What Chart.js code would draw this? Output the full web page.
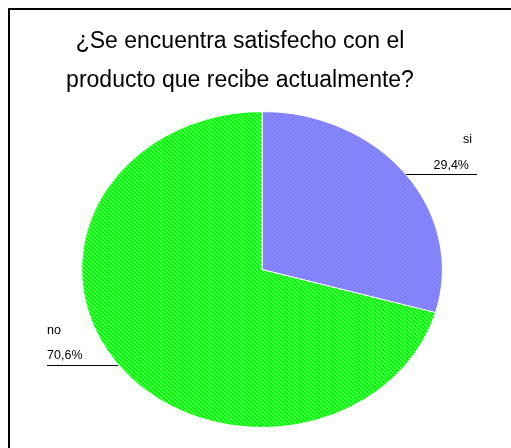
<!DOCTYPE html>
<html>
<head>
<meta charset="utf-8">
<script src="https://cdn.jsdelivr.net/npm/chart.js@4.4.1/dist/chart.umd.min.js"></script>
<style>
  body { margin: 0; background: #fff; }
  canvas { display: block; }
</style>
</head>
<body>
<canvas id="myChart" width="511" height="448"></canvas>
<script>
var titleLines = ['¿Se encuentra satisfecho con el', 'producto que recibe actualmente?'];
var labels = ['si', 'no'];
var values = [29.4, 70.6];
var baseColors = ['#8080ff', '#00ff00'];

// the pie is drawn as a circle and then stretched sideways into an ellipse
var stretchX = 1.142;

var ctx = document.getElementById('myChart').getContext('2d');

// diagonal white hatching over a flat colour
function hatch(base, alpha) {
	var c = document.createElement('canvas');
	c.width = 4; c.height = 4;
	var g = c.getContext('2d');
	g.fillStyle = base;
	g.fillRect(0, 0, 4, 4);
	g.strokeStyle = 'rgba(255,255,255,' + alpha + ')';
	g.lineWidth = 1;
	g.beginPath();
	g.moveTo(-1, -1); g.lineTo(5, 5);
	g.stroke();
	return ctx.createPattern(c, 'repeat');
}

var fills = [hatch(baseColors[0], 0.12), hatch(baseColors[1], 0.6)];

var squash = {
	id: 'squash',
	beforeDatasetsDraw: function(chart) {
		var arc = chart.getDatasetMeta(0).data[0];
		var c = chart.ctx;
		c.save();
		c.translate(arc.x, arc.y);
		c.scale(stretchX, 1);
		c.translate(-arc.x, -arc.y);
	},
	afterDatasetsDraw: function(chart) {
		chart.ctx.restore();
	}
};

var frameAndText = {
	id: 'frameAndText',
	beforeDraw: function(chart) {
		var c = chart.ctx;
		c.save();
		c.fillStyle = '#000';
		c.fillRect(8, 8, 503, 2);
		c.fillRect(8, 8, 2, 440);
		c.restore();
	},
	afterDraw: function(chart) {
		var c = chart.ctx;
		c.save();
		c.fillStyle = '#000';
		c.textAlign = 'center';
		c.font = '23px "Liberation Sans", Arial, sans-serif';
		c.fillText(titleLines[0], 240, 48);
		c.fillText(titleLines[1], 240, 87);

		// leader lines leave each slice at its middle angle
		c.font = '12.5px "Liberation Sans", Arial, sans-serif';
		c.strokeStyle = '#000';
		c.lineWidth = 1;
		chart.getDatasetMeta(0).data.forEach(function(arc, i) {
			var mid = (arc.startAngle + arc.endAngle) / 2;
			var px = arc.x + Math.cos(mid) * arc.outerRadius * stretchX;
			var py = Math.round(arc.y + Math.sin(mid) * arc.outerRadius) + 0.5;
			var right = Math.cos(mid) >= 0;
			var ex = right ? px + 71 : px - 71;
			c.beginPath();
			c.moveTo(px, py);
			c.lineTo(ex, py);
			c.stroke();
			var pct = values[i].toFixed(1).replace('.', ',') + '%';
			if (right) {
				c.textAlign = 'right';
				c.fillText(pct, ex - 8, py - 6);
				c.fillText(labels[i], ex - 5, py - 32);
			} else {
				c.textAlign = 'left';
				c.fillText(pct, ex, py - 7);
				c.fillText(labels[i], ex, py - 32);
			}
		});
		c.restore();
	}
};

var myChart = new Chart(ctx, {
	type: 'pie',
	data: {
		labels: labels,
		datasets: [{
			data: values,
			backgroundColor: fills,
			borderColor: '#ffffff',
			borderWidth: 1
		}]
	},
	options: {
		responsive: false,
		animation: false,
		layout: {
			padding: { left: 62, right: 49, top: 111, bottom: 20 }
		},
		plugins: {
			legend: { display: false },
			title: { display: false },
			tooltip: { enabled: false }
		}
	},
	plugins: [squash, frameAndText]
});
</script>
</body>
</html>
